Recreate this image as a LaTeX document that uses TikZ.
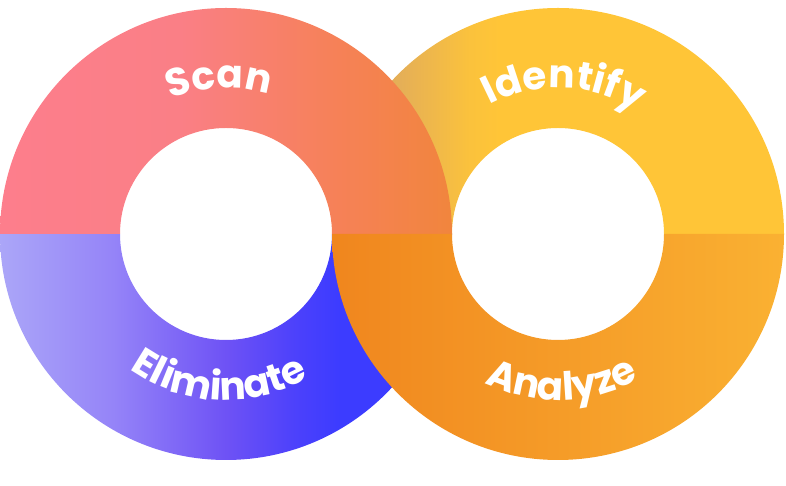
\documentclass[tikz,border=0pt]{standalone}
\usepackage{fontspec}
\usepackage{xcolor}
\newfontfamily\labelfont{Poppins}
\usetikzlibrary{decorations.text}
\definecolor{scanL}{HTML}{FD7E8C}
\definecolor{scanM}{HTML}{FA7F86}
\definecolor{scanR1}{HTML}{F68158}
\definecolor{scanR}{HTML}{F1853D}
\definecolor{elimL}{HTML}{ABA6F8}
\definecolor{elimA}{HTML}{9584F8}
\definecolor{elimM}{HTML}{6E52F5}
\definecolor{elimB}{HTML}{4A40FC}
\definecolor{elimR}{HTML}{3C3CFF}
\definecolor{identL}{HTML}{DDA85E}
\definecolor{identA}{HTML}{E5AF57}
\definecolor{identB}{HTML}{FBC23C}
\definecolor{identR}{HTML}{FFC537}
\definecolor{analyzeL}{HTML}{F0861E}
\definecolor{analyzeR}{HTML}{FAB132}
\pgfdeclarehorizontalshading{scanshade}{100bp}{color(0bp)=(scanL); color(25bp)=(scanL); color(45bp)=(scanM); color(62bp)=(scanR1); color(75bp)=(scanR); color(100bp)=(scanR)}
\pgfdeclarehorizontalshading{elimshade}{100bp}{color(0bp)=(elimL); color(25bp)=(elimL); color(37.5bp)=(elimA); color(50bp)=(elimM); color(58.2bp)=(elimB); color(62.6bp)=(elimR); color(100bp)=(elimR)}
\pgfdeclarehorizontalshading{identshade}{100bp}{color(0bp)=(identL); color(25bp)=(identL); color(32.5bp)=(identA); color(40.3bp)=(identB); color(43.6bp)=(identR); color(100bp)=(identR)}
\pgfdeclarehorizontalshading{analyzeshade}{100bp}{color(0bp)=(analyzeL); color(25bp)=(analyzeL); color(75bp)=(analyzeR); color(100bp)=(analyzeR)}
\tikzset{
  ringlabel/.style={decorate,decoration={text along path,text align=center,
                    text={|\labelfont\bfseries\fontsize{39}{39}\selectfont\color{white}|#1}}}
}

\begin{document}
\begin{tikzpicture}[x=1pt,y=1pt]
  \useasboundingbox (0,0) rectangle (786,486);

  % half rings: yellow, blue, pink, orange (pink over yellow, orange over blue)
  \foreach \cx/\from/\to/\shade in {558/0/180/identshade,226/180/360/elimshade,226/0/180/scanshade,558/180/360/analyzeshade} {
    \path[shading=\shade] (\cx,252) ++(\from:226) arc[start angle=\from,end angle=\to,radius=226]
      -- ++(\to:-120) arc[start angle=\to,end angle=\from,radius=106] -- cycle;
  }

  % labels along the rings
  \path[ringlabel=Scan] (226,252) ++(152.6:146) arc[start angle=152.6,end angle=32.6,radius=146];
  \path[ringlabel=Identify] (558,252) ++(147.7:146) arc[start angle=147.7,end angle=27.7,radius=146];
  \path[ringlabel=Eliminate] (226,252) ++(207.4:166) arc[start angle=207.4,end angle=327.4,radius=166];
  \path[ringlabel=Analyze] (558,252) ++(211.5:166) arc[start angle=211.5,end angle=331.5,radius=166];
\end{tikzpicture}
\end{document}
